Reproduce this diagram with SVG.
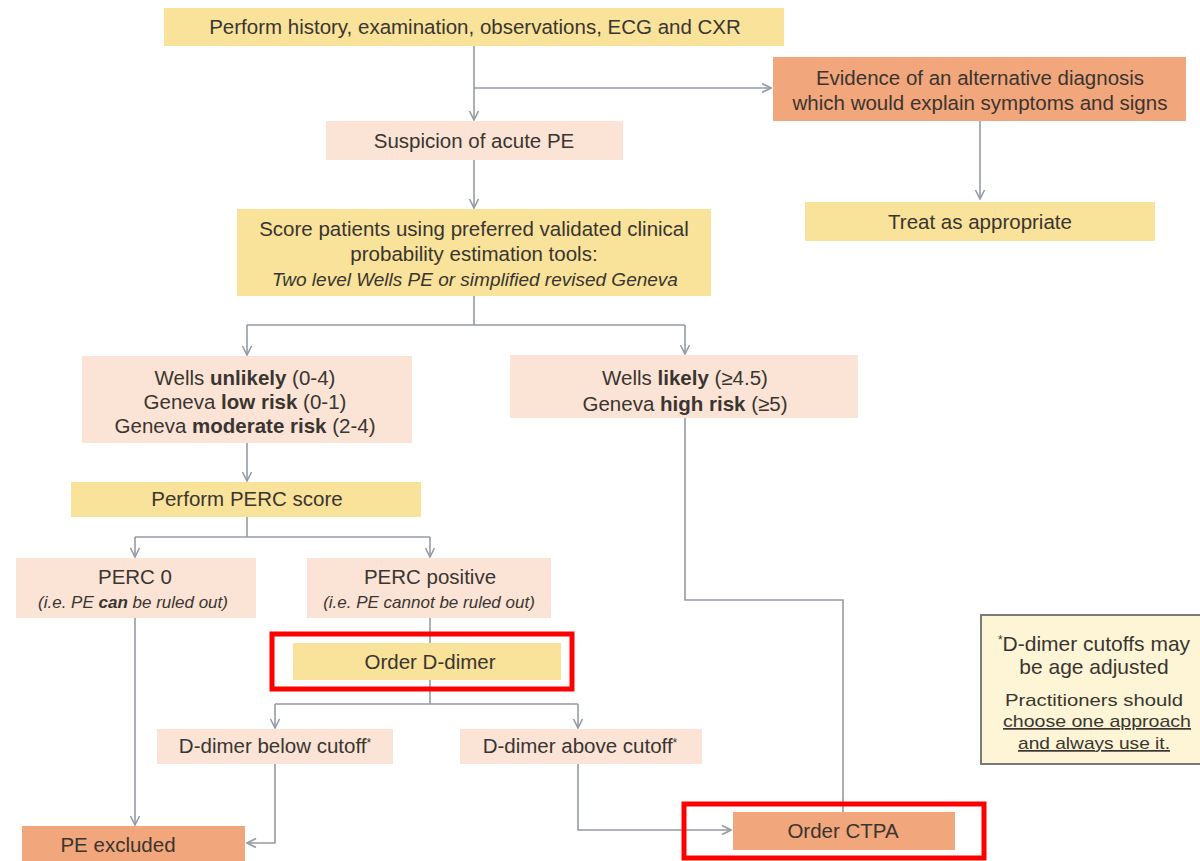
<svg xmlns="http://www.w3.org/2000/svg" width="1200" height="861" viewBox="0 0 1200 861">
  <defs>
    <style>
      text { font-family: "Liberation Sans", Arial, sans-serif; fill: #3a3530; text-anchor: middle; }
      .t { font-size: 20.5px; }
      .i { font-size: 19px; font-style: italic; }
      .s { font-size: 17px; font-style: italic; }
      .n { font-size: 17px; }
      .yellow { fill: #f9e29a; }
      .peach { fill: #fbe4d6; }
      .salmon { fill: #f2a67b; }
      .conn { fill: none; stroke: #959aa3; stroke-width: 1.6; }
      .hl { fill: none; stroke: #ff0000; stroke-width: 5; }
      .b { font-weight: bold; }
    </style>
    <marker id="arr" viewBox="0 0 12 12" refX="11" refY="6" markerWidth="12" markerHeight="12" markerUnits="userSpaceOnUse" orient="auto">
      <polyline points="2,1.5 11,6 2,10.5" fill="none" stroke="#959aa3" stroke-width="1.6"/>
    </marker>
  </defs>

  <rect width="1200" height="861" fill="#ffffff"/>

  <!-- connectors -->
  <g id="connectors">
    <path class="conn" d="M474,46 V120" marker-end="url(#arr)"/>
    <path class="conn" d="M474,88 H771" marker-end="url(#arr)"/>
    <path class="conn" d="M980,121 V199" marker-end="url(#arr)"/>
    <path class="conn" d="M474,160 V208" marker-end="url(#arr)"/>
    <path class="conn" d="M474,296 V325"/>
    <path class="conn" d="M247,325 H685"/>
    <path class="conn" d="M247,325 V355" marker-end="url(#arr)"/>
    <path class="conn" d="M685,325 V354" marker-end="url(#arr)"/>
    <path class="conn" d="M247,443 V481" marker-end="url(#arr)"/>
    <path class="conn" d="M247,517 V537"/>
    <path class="conn" d="M135,537 H430"/>
    <path class="conn" d="M135,537 V557" marker-end="url(#arr)"/>
    <path class="conn" d="M430,537 V557" marker-end="url(#arr)"/>
    <path class="conn" d="M430,618 V643"/>
    <path class="conn" d="M430,680 V704"/>
    <path class="conn" d="M275,704 H578"/>
    <path class="conn" d="M275,704 V728" marker-end="url(#arr)"/>
    <path class="conn" d="M578,704 V728" marker-end="url(#arr)"/>
    <path class="conn" d="M135,618 V825" marker-end="url(#arr)"/>
    <path class="conn" d="M275,764 V843 H247" marker-end="url(#arr)"/>
    <path class="conn" d="M578,764 V830 H731" marker-end="url(#arr)"/>
    <path class="conn" d="M685,418 V600 H843 V812"/>
  </g>

  <g id="history">
    <rect class="yellow" x="164" y="8" width="620" height="38"/>
    <text class="t" x="475" y="34">Perform history, examination, observations, ECG and CXR</text>
  </g>

  <g id="alternative">
    <rect class="salmon" x="773" y="57" width="413" height="64"/>
    <text class="t" x="980" y="85">Evidence of an alternative diagnosis</text>
    <text class="t" x="980" y="110">which would explain symptoms and signs</text>
  </g>

  <g id="suspicion">
    <rect class="peach" x="326" y="121" width="297" height="39"/>
    <text class="t" x="474" y="148">Suspicion of acute PE</text>
  </g>

  <g id="treat">
    <rect class="yellow" x="805" y="202" width="350" height="39"/>
    <text class="t" x="980" y="229">Treat as appropriate</text>
  </g>

  <g id="score">
    <rect class="yellow" x="237" y="209" width="474" height="87"/>
    <text class="t" x="474" y="236">Score patients using preferred validated clinical</text>
    <text class="t" x="474" y="261">probability estimation tools:</text>
    <text class="i" x="475" y="286">Two level Wells PE or simplified revised Geneva</text>
  </g>

  <g id="low-risk">
    <rect class="peach" x="82" y="356" width="330" height="87"/>
    <text class="t" x="245" y="385">Wells <tspan class="b">unlikely</tspan> (0-4)</text>
    <text class="t" x="245" y="409">Geneva <tspan class="b">low risk</tspan> (0-1)</text>
    <text class="t" x="245" y="433">Geneva <tspan class="b">moderate risk</tspan> (2-4)</text>
  </g>

  <g id="high-risk">
    <rect class="peach" x="510" y="355" width="348" height="63"/>
    <text class="t" x="685" y="385">Wells <tspan class="b">likely</tspan> (≥4.5)</text>
    <text class="t" x="685" y="411">Geneva <tspan class="b">high risk</tspan> (≥5)</text>
  </g>

  <g id="perc-score">
    <rect class="yellow" x="71" y="482" width="350" height="35"/>
    <text class="t" x="247" y="506">Perform PERC score</text>
  </g>

  <g id="perc-zero">
    <rect class="peach" x="16" y="558" width="240" height="60"/>
    <text class="t" x="135" y="584">PERC 0</text>
    <text class="s" x="133" y="608">(i.e. PE <tspan class="b">can</tspan> be ruled out)</text>
  </g>

  <g id="perc-positive">
    <rect class="peach" x="307" y="558" width="244" height="60"/>
    <text class="t" x="430" y="584">PERC positive</text>
    <text class="s" x="429" y="608">(i.e. PE cannot be ruled out)</text>
  </g>

  <g id="d-dimer">
    <rect class="yellow" x="293" y="643" width="268" height="37"/>
    <text class="t" x="430" y="669">Order D-dimer</text>
    <rect class="hl" x="272" y="634" width="300" height="55"/>
  </g>

  <g id="below-cutoff">
    <rect class="peach" x="157" y="729" width="236" height="35"/>
    <text class="t" x="275" y="753">D-dimer below cutoff<tspan font-size="12" dy="-6">*</tspan></text>
  </g>

  <g id="above-cutoff">
    <rect class="peach" x="460" y="729" width="242" height="35"/>
    <text class="t" x="580" y="753">D-dimer above cutoff<tspan font-size="12" dy="-6">*</tspan></text>
  </g>

  <g id="pe-excluded">
    <rect class="salmon" x="22" y="826" width="223" height="40"/>
    <text class="t" x="118" y="852">PE excluded</text>
  </g>

  <g id="ctpa">
    <rect class="salmon" x="733" y="812" width="222" height="38"/>
    <text class="t" x="843" y="838">Order CTPA</text>
    <rect class="hl" x="684" y="804" width="300" height="54"/>
  </g>

  <g id="note">
    <rect x="981" y="615" width="222" height="149" fill="#fdf5d6" stroke="#7a7a7a" stroke-width="2"/>
    <text x="1094" y="651" font-size="21"><tspan font-size="12" dy="-7">*</tspan><tspan dy="7">D-dimer cutoffs may</tspan></text>
    <text x="1094" y="674" font-size="21">be age adjusted</text>
    <text class="n" x="1094" y="706" textLength="178" lengthAdjust="spacingAndGlyphs">Practitioners should</text>
    <text class="n" x="1097" y="727" textLength="188" lengthAdjust="spacingAndGlyphs" text-decoration="underline">choose one approach</text>
    <text class="n" x="1094" y="749" textLength="152" lengthAdjust="spacingAndGlyphs" text-decoration="underline">and always use it.</text>
  </g>
</svg>
